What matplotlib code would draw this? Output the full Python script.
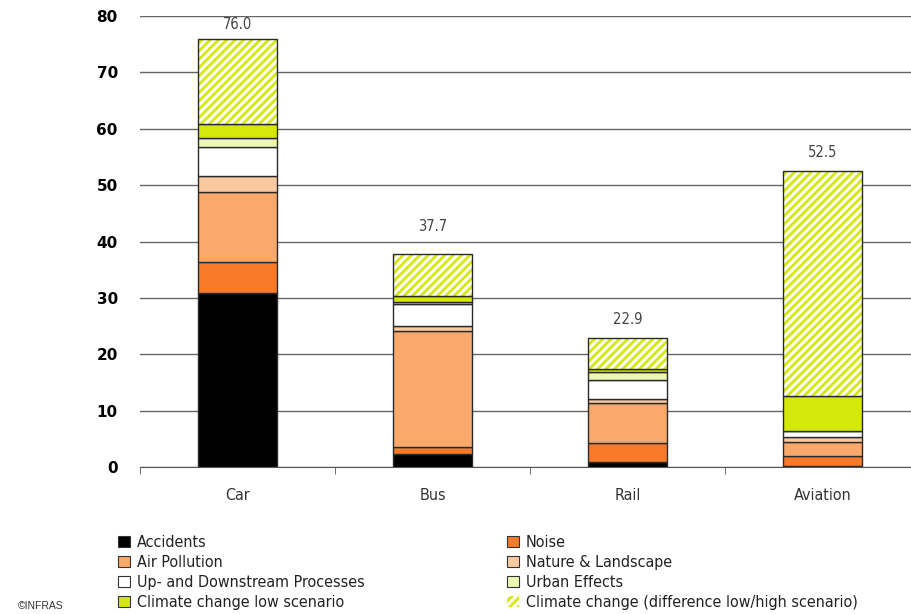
import matplotlib
matplotlib.use("Agg")
import matplotlib.pyplot as plt
from matplotlib import font_manager
from matplotlib.patches import Patch
import numpy as np

# data (external costs per mode)
modes = ["Car", "Bus", "Rail", "Aviation"]
accidents = [30.9, 2.3, 0.8, 0.2]
noise = [5.4, 1.3, 3.5, 1.8]
air_pollution = [12.5, 20.6, 7.1, 2.4]
nature = [2.8, 0.8, 0.6, 0.9]
up_down = [5.2, 4.0, 3.4, 1.0]
urban = [1.5, 0.2, 1.4, 0.1]
climate_low = [2.6, 1.2, 0.6, 6.2]
climate_diff = [15.1, 7.3, 5.5, 39.9]
totals = [76.0, 37.7, 22.9, 52.5]

# how far above each bar its total sits (layout only)
label_gap = [2.5, 4.9, 3.3, 3.2]

# condensed DejaVu if it is installed, else plain
cond = [f for f in font_manager.fontManager.ttflist
        if f.name == "DejaVu Sans" and "ondensed" in f.fname and f.weight in (400, "normal")]
if cond:
    fam, base, stretch = cond[0].name, 11, "condensed"
else:
    fam, base, stretch = "DejaVu Sans", 9.5, "normal"


def fp(size):
    return font_manager.FontProperties(family=fam, stretch=stretch, size=size)


plt.rcParams["hatch.linewidth"] = 2.0

fig = plt.figure(figsize=(9.11, 6.14), dpi=100)
ax = fig.add_axes([140 / 911, 147 / 614, 780 / 911, 451 / 614])

x = np.arange(len(modes))
w = 0.41
edge = "#2a2a2a"
lime = "#d4e80c"

layers = [
    (accidents, "#000000", "Accidents"),
    (noise, "#f97a2a", "Noise"),
    (air_pollution, "#f9a96b", "Air Pollution"),
    (nature, "#fbc9a0", "Nature & Landscape"),
    (up_down, "#ffffff", "Up- and Downstream Processes"),
    (urban, "#eef7b4", "Urban Effects"),
    (climate_low, lime, "Climate change low scenario"),
]

bottom = np.zeros(len(modes))
handles = {}
for vals, col, lab in layers:
    ax.bar(x, vals, w, bottom=bottom, color=col, edgecolor=edge, linewidth=1.0, zorder=3)
    handles[lab] = Patch(facecolor=col, edgecolor="#333333", linewidth=0.8)
    bottom = bottom + np.array(vals)

# hatched part: stripes first, outline on top
ax.bar(x, climate_diff, w, bottom=bottom, color="white", edgecolor=lime,
       hatch="////", linewidth=0, zorder=3)
ax.bar(x, climate_diff, w, bottom=bottom, fill=False, edgecolor=edge, linewidth=1.0, zorder=4)
handles["Climate change (difference low/high scenario)"] = Patch(
    facecolor="white", edgecolor=lime, hatch="////", linewidth=0)

for xi, t, g in zip(x, totals, label_gap):
    ax.text(xi, t + g, f"{t:.1f}", ha="center", va="center",
            fontproperties=fp(base - 0.5), color="#444444")

ax.set_xlim(-0.5, 3.5)
ax.set_ylim(0, 80)
ax.set_yticks(range(0, 81, 10))
ax.yaxis.grid(True, color="#666666", linewidth=1.0, zorder=0)
ax.set_axisbelow(True)
for s in ["top", "right", "left"]:
    ax.spines[s].set_visible(False)
ax.spines["bottom"].set_color("#555555")
ax.tick_params(axis="y", length=0, pad=16, labelsize=11)
for lb in ax.get_yticklabels():
    lb.set_fontweight("bold")
ax.set_xticks(x)
ax.set_xticklabels(modes, color="#333333")
for lb in ax.get_xticklabels():
    lb.set_fontproperties(fp(base + 0.5))
ax.tick_params(axis="x", length=0, pad=15)
ax.set_xticks(np.arange(-0.5, 3.6, 1), minor=True)
ax.tick_params(axis="x", which="minor", length=5, direction="out", color="#555555")

order = ["Accidents", "Air Pollution", "Up- and Downstream Processes",
         "Climate change low scenario", "Noise", "Nature & Landscape",
         "Urban Effects", "Climate change (difference low/high scenario)"]
leg = fig.legend([handles[k] for k in order], order, ncol=2, loc="upper left",
                 bbox_to_anchor=(112 / 911, 1 - 529 / 614), frameon=False,
                 prop=fp(base + 0.5), handlelength=0.7, handleheight=0.7,
                 handletextpad=0.45, labelspacing=0.3, columnspacing=8.95,
                 borderaxespad=0)
for t in leg.get_texts():
    t.set_color("#222222")

fig.text(18 / 911, 1 - 606 / 614, "©INFRAS", fontsize=7.5, color="#333333",
         family="Liberation Sans", va="center")

fig.savefig("out.png", dpi=100)
